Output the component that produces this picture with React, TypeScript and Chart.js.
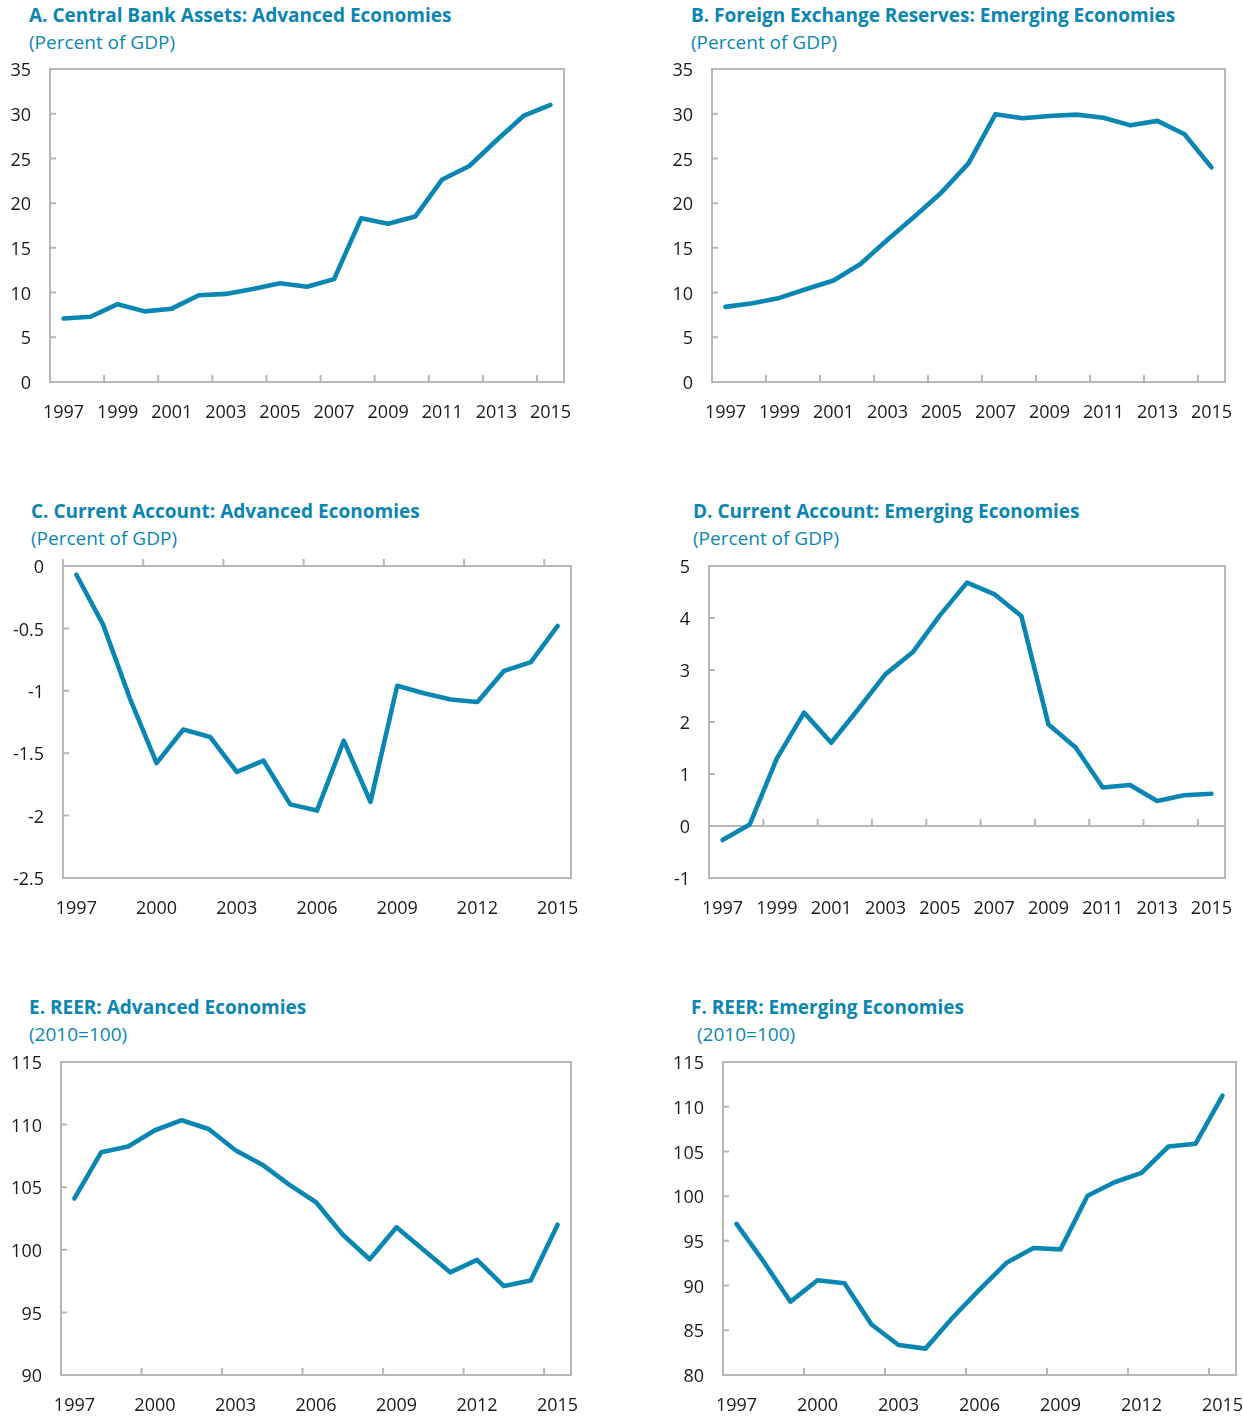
import React, { useEffect, useRef } from "react";
import { Chart, registerables } from "chart.js";

Chart.register(...registerables);

const years = ["1997", "1998", "1999", "2000", "2001", "2002", "2003", "2004", "2005", "2006", "2007", "2008", "2009", "2010", "2011", "2012", "2013", "2014", "2015"];

const centralBankAssetsAdvanced = [7.1, 7.3, 8.7, 7.9, 8.2, 9.7, 9.85, 10.4, 11.05, 10.65, 11.5, 18.3, 17.7, 18.5, 22.65, 24.15, 27.0, 29.75, 31.0];
const fxReservesEmerging = [8.4, 8.8, 9.4, 10.4, 11.35, 13.2, 15.9, 18.5, 21.2, 24.45, 29.95, 29.5, 29.75, 29.9, 29.55, 28.7, 29.2, 27.7, 24.0];
const currentAccountAdvanced = [-0.07, -0.47, -1.06, -1.58, -1.31, -1.37, -1.65, -1.56, -1.91, -1.96, -1.4, -1.89, -0.96, -1.02, -1.07, -1.09, -0.84, -0.77, -0.48];
const currentAccountEmerging = [-0.27, 0.03, 1.3, 2.18, 1.6, 2.25, 2.92, 3.34, 4.05, 4.68, 4.46, 4.04, 1.95, 1.51, 0.74, 0.79, 0.48, 0.59, 0.62];
const reerAdvanced = [104.1, 107.8, 108.25, 109.55, 110.35, 109.65, 107.95, 106.8, 105.2, 103.8, 101.2, 99.25, 101.8, 100.0, 98.2, 99.2, 97.1, 97.55, 102.0];
const reerEmerging = [96.9, 92.7, 88.2, 90.6, 90.25, 85.65, 83.35, 82.95, 86.4, 89.55, 92.55, 94.2, 94.05, 100.05, 101.55, 102.6, 105.55, 105.85, 111.25];

const titles = [
  "A. Central Bank Assets: Advanced Economies",
  "B. Foreign Exchange Reserves: Emerging Economies",
  "C. Current Account: Advanced Economies",
  "D. Current Account: Emerging Economies",
  "E. REER: Advanced Economies",
  "F. REER: Emerging Economies",
];
const subtitles = ["(Percent of GDP)", "(Percent of GDP)", "(Percent of GDP)", "(Percent of GDP)", "(2010=100)", "(2010=100)"];

const BLUE = "#0a86b3";
const AXIS_GRAY = "#b7b7b7";
const TEXT = "#1a1a1a";
const FONT = '"Open Sans", "Noto Sans", sans-serif';

type Rect = { l: number; t: number; r: number; b: number };
type PanelSpec = {
  title: string;
  subtitle: string;
  titleX: number;
  titleY: number;
  subX: number;
  subY: number;
  data: number[];
  min: number;
  max: number;
  step: number;
  every: number;
  cross: number;
  plot: Rect;
  canvas: Rect;
};

const panels: PanelSpec[] = [
  { title: titles[0], subtitle: subtitles[0], titleX: 29, titleY: 4, subX: 29, subY: 31, data: centralBankAssetsAdvanced, min: 0, max: 35, step: 5, every: 2, cross: 0,
    plot: { l: 50, t: 69, r: 564, b: 382 }, canvas: { l: 0, t: 50, r: 600, b: 430 } },
  { title: titles[1], subtitle: subtitles[1], titleX: 691, titleY: 4, subX: 691, subY: 31, data: fxReservesEmerging, min: 0, max: 35, step: 5, every: 2, cross: 0,
    plot: { l: 712, t: 69, r: 1225, b: 382 }, canvas: { l: 640, t: 50, r: 1243, b: 430 } },
  { title: titles[2], subtitle: subtitles[2], titleX: 31, titleY: 500, subX: 31, subY: 527, data: currentAccountAdvanced, min: -2.5, max: 0, step: 0.5, every: 3, cross: 0,
    plot: { l: 63, t: 566, r: 571, b: 878 }, canvas: { l: 0, t: 546, r: 600, b: 930 } },
  { title: titles[3], subtitle: subtitles[3], titleX: 693, titleY: 500, subX: 693, subY: 527, data: currentAccountEmerging, min: -1, max: 5, step: 1, every: 2, cross: 0,
    plot: { l: 709, t: 566, r: 1225, b: 878 }, canvas: { l: 640, t: 546, r: 1243, b: 930 } },
  { title: titles[4], subtitle: subtitles[4], titleX: 29, titleY: 996, subX: 29, subY: 1023, data: reerAdvanced, min: 90, max: 115, step: 5, every: 3, cross: 90,
    plot: { l: 61, t: 1062, r: 571, b: 1375 }, canvas: { l: 0, t: 1044, r: 600, b: 1416 } },
  { title: titles[5], subtitle: subtitles[5], titleX: 691, titleY: 996, subX: 697, subY: 1023, data: reerEmerging, min: 80, max: 115, step: 5, every: 3, cross: 80,
    plot: { l: 723, t: 1062, r: 1236, b: 1375 }, canvas: { l: 640, t: 1044, r: 1243, b: 1416 } },
];

const framePlugin = {
  id: "frame",
  beforeDatasetsDraw(chart: any, _args: any, opts: any) {
    const { ctx, chartArea: a, scales } = chart;
    const xs = scales.x;
    const ys = scales.y;
    ctx.save();
    ctx.strokeStyle = AXIS_GRAY;
    ctx.lineWidth = 2;
    ctx.lineCap = "butt";
    ctx.strokeRect(a.left, a.top, a.right - a.left, a.bottom - a.top);
    const yc = ys.getPixelForValue(opts.cross);
    ctx.beginPath();
    if (opts.cross > ys.min && opts.cross < ys.max) {
      ctx.moveTo(a.left, yc);
      ctx.lineTo(a.right, yc);
    }
    const n = xs.getLabels().length;
    const half = (xs.getPixelForValue(1) - xs.getPixelForValue(0)) / 2;
    for (let k = 0; k < n; k += opts.every) {
      const px = xs.getPixelForValue(k) - half;
      ctx.moveTo(px, yc + 1);
      ctx.lineTo(px, yc - 7);
    }
    ys.ticks.forEach((t: any) => {
      const py = ys.getPixelForValue(t.value);
      ctx.moveTo(a.left, py);
      ctx.lineTo(a.left + 6, py);
    });
    ctx.stroke();
    ctx.restore();
  },
};

function Panel({ p }: { p: PanelSpec }) {
  const ref = useRef<HTMLCanvasElement | null>(null);
  const w = p.canvas.r - p.canvas.l;
  const h = p.canvas.b - p.canvas.t;
  useEffect(() => {
    if (!ref.current) return;
    const chart = new Chart(ref.current, {
      type: "line",
      data: {
        labels: years,
        datasets: [
          {
            data: p.data,
            borderColor: BLUE,
            borderWidth: 4.6,
            pointRadius: 0,
            tension: 0,
            fill: false,
            borderCapStyle: "round",
            borderJoinStyle: "round",
            clip: 10,
          } as any,
        ],
      },
      options: {
        animation: false,
        responsive: false,
        events: [],
        layout: { padding: { top: p.plot.t - p.canvas.t, right: p.canvas.r - p.plot.r, left: 0, bottom: 0 } },
        plugins: {
          legend: { display: false },
          tooltip: { enabled: false },
          frame: { cross: p.cross, every: p.every },
        } as any,
        scales: {
          x: {
            type: "category",
            offset: true,
            grid: { display: false, drawTicks: false },
            border: { display: false },
            ticks: {
              autoSkip: false,
              maxRotation: 0,
              minRotation: 0,
              padding: 20,
              color: TEXT,
              font: { family: FONT, size: 18 },
              callback: (_v: any, i: number) => (i % p.every === 0 ? years[i] : ""),
            },
            afterFit: (s: any) => {
              s.height = p.canvas.b - p.plot.b;
              s.paddingLeft = 0;
              s.paddingRight = 0;
            },
          },
          y: {
            type: "linear",
            min: p.min,
            max: p.max,
            grid: { display: false, drawTicks: false },
            border: { display: false },
            ticks: {
              stepSize: p.step,
              padding: 19,
              labelOffset: 2,
              color: TEXT,
              font: { family: FONT, size: 18 },
              callback: (v: any) => String(Math.round(Number(v) * 10) / 10),
            },
            afterFit: (s: any) => {
              s.width = p.plot.l - p.canvas.l;
              s.paddingTop = 0;
              s.paddingBottom = 0;
            },
          },
        },
      } as any,
      plugins: [framePlugin as any],
    });
    return () => chart.destroy();
  }, []);
  return (
    <>
      <div style={{ position: "absolute", left: p.titleX, top: p.titleY, font: `700 19px ${FONT}`, lineHeight: "22px", color: BLUE, whiteSpace: "nowrap" }}>
        {p.title}
      </div>
      <div style={{ position: "absolute", left: p.subX, top: p.subY, font: `400 19px ${FONT}`, lineHeight: "22px", color: BLUE, whiteSpace: "nowrap" }}>
        {p.subtitle}
      </div>
      <canvas
        ref={ref}
        width={w}
        height={h}
        style={{ position: "absolute", left: p.canvas.l, top: p.canvas.t, width: w, height: h }}
      />
    </>
  );
}

export default function App() {
  return (
    <div style={{ position: "absolute", left: 0, top: 0, width: 1243, height: 1416, background: "#fff", overflow: "hidden" }}>
      {panels.map((p, i) => (
        <Panel key={i} p={p} />
      ))}
    </div>
  );
}
